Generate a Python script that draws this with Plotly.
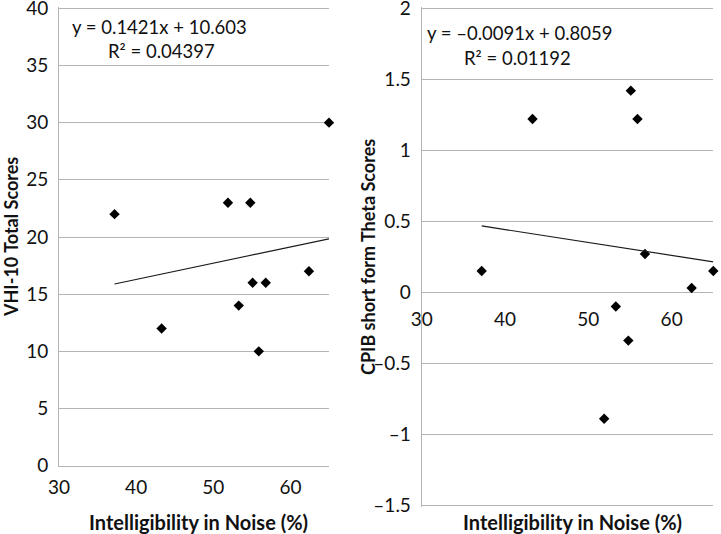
import plotly.graph_objects as go

# ---- data ----
intelligibility = [37.2, 43.3, 51.9, 53.3, 54.8, 55.1, 55.9, 56.8, 62.4, 65.0]
vhi10_scores = [22, 12, 23, 14, 23, 16, 10, 16, 17, 30]
cpib_theta = [0.15, 1.22, -0.89, -0.10, -0.34, 1.42, 1.22, 0.27, 0.03, 0.15]

vhi_slope, vhi_intercept = 0.1421, 10.603
cpib_slope, cpib_intercept = -0.0091, 0.8059

vhi_eq = "y = 0.1421x + 10.603"
vhi_r2 = "R² = 0.04397"
cpib_eq = "y = –0.0091x + 0.8059"
cpib_r2 = "R² = 0.01192"

x_title = "Intelligibility in Noise (%)"
vhi_title = "VHI-10 Total Scores"
cpib_title = "CPIB short form Theta Scores"

x_ticks = [30, 40, 50, 60]
vhi_ticks = [0, 5, 10, 15, 20, 25, 30, 35, 40]
cpib_ticks = [-1.5, -1, -0.5, 0, 0.5, 1, 1.5, 2]
cpib_ticktext = ["–1.5", "–1", "–0.5", "0", "0.5", "1", "1.5", "2"]

# ---- geometry ----
W, H = 721, 534
def px(x): return x / W
def py(y): return 1 - y / H

FONT = "Lato, Open Sans, sans-serif"
GRID = "#b4b4b4"
TXT = "#111111"

xmin, xmax = min(intelligibility), max(intelligibility)
trend_x = [xmin, xmax]
vhi_trend = [vhi_slope * v + vhi_intercept for v in trend_x]
cpib_trend = [cpib_slope * v + cpib_intercept for v in trend_x]

fig = go.Figure()
marker = dict(symbol="diamond", size=8, color="black", line=dict(width=0))
fig.add_trace(go.Scatter(x=intelligibility, y=vhi10_scores, mode="markers",
                         marker=marker, xaxis="x", yaxis="y", showlegend=False,
                         cliponaxis=False))
fig.add_trace(go.Scatter(x=trend_x, y=vhi_trend, mode="lines",
                         line=dict(color="#1a1a1a", width=1.2), xaxis="x", yaxis="y",
                         showlegend=False))
fig.add_trace(go.Scatter(x=intelligibility, y=cpib_theta, mode="markers",
                         marker=marker, xaxis="x2", yaxis="y2", showlegend=False,
                         cliponaxis=False))
fig.add_trace(go.Scatter(x=trend_x, y=cpib_trend, mode="lines",
                         line=dict(color="#1a1a1a", width=1.2), xaxis="x2", yaxis="y2",
                         showlegend=False))

# left panel: 0 -> 465.7px, 40 -> 8.3px ; small top pad so the 40 gridline is drawn
l_lo, l_hi = 0, 40.15
l_ppu = (465.7 - 8.3) / 40
L_dom_x = [px(59), px(329)]
L_dom_y = [py(465.7), py(8.3 - (l_hi - 40) * l_ppu)]
# right panel: -1.5 -> 505.3px, 2 -> 8.3px
r_lo, r_hi = -1.512, 2.012
r_ppu = (505.3 - 8.3) / 3.5
R_dom_x = [px(421.7), px(713.3)]
R_dom_y = [py(505.3 + (-1.5 - r_lo) * r_ppu), py(8.3 - (r_hi - 2) * r_ppu)]
zero_pos = R_dom_y[0] + (0 - r_lo) / (r_hi - r_lo) * (R_dom_y[1] - R_dom_y[0])

tickfont = dict(family=FONT, size=19, color=TXT)

fig.update_layout(
    width=W, height=H,
    margin=dict(l=0, r=0, t=0, b=0),
    paper_bgcolor="white", plot_bgcolor="white",
    font=dict(family=FONT, color=TXT),
    xaxis=dict(domain=L_dom_x, range=[30, 65], tickvals=x_ticks, showgrid=False,
               zeroline=False, showline=True, linecolor=GRID, linewidth=1,
               ticks="", tickfont=tickfont, anchor="y", automargin=False,
               ticklabelstandoff=4, ticklabeloverflow="allow"),
    yaxis=dict(domain=L_dom_y, range=[l_lo, l_hi], tickvals=vhi_ticks, showgrid=True,
               gridcolor=GRID, gridwidth=1, zeroline=False, showline=True,
               linecolor=GRID, linewidth=1, ticks="", tickfont=tickfont,
               anchor="x", automargin=False, ticklabelstandoff=6,
               ticklabeloverflow="allow"),
    xaxis2=dict(domain=R_dom_x, range=[30, 65], tickvals=x_ticks, showgrid=False,
                zeroline=False, showline=False, ticks="", tickfont=tickfont,
                anchor="free", position=zero_pos, automargin=False,
                ticklabelstandoff=14, ticklabeloverflow="allow"),
    yaxis2=dict(domain=R_dom_y, range=[r_lo, r_hi], tickvals=cpib_ticks,
                ticktext=cpib_ticktext, showgrid=True, gridcolor=GRID, gridwidth=1,
                zeroline=False, showline=True, linecolor=GRID, linewidth=1, ticks="",
                tickfont=tickfont, anchor="x2", automargin=False, ticklabelstandoff=6,
                ticklabeloverflow="allow"),
)

ann_font = dict(family=FONT, size=18.5, color=TXT)
xtitle_font = dict(family=FONT, size=20, color=TXT)
ytitle_font = dict(family=FONT, size=18, color=TXT)
anns = [
    dict(x=px(159.5), y=py(27), text=vhi_eq, font=ann_font),
    dict(x=px(161), y=py(51), text=vhi_r2, font=ann_font),
    dict(x=px(519.5), y=py(33), text=cpib_eq, font=ann_font),
    dict(x=px(517.5), y=py(58), text=cpib_r2, font=ann_font),
    dict(x=px(198.5), y=py(521.5), text="<b>%s</b>" % x_title, font=xtitle_font),
    dict(x=px(572), y=py(521.5), text="<b>%s</b>" % x_title, font=xtitle_font),
    dict(x=px(11), y=py(237), text="<b>%s</b>" % vhi_title, font=ytitle_font, textangle=-90),
    dict(x=px(368), y=py(257), text="<b>%s</b>" % cpib_title, font=ytitle_font, textangle=-90),
]
for a in anns:
    a.update(xref="paper", yref="paper", showarrow=False, xanchor="center", yanchor="middle")
fig.update_layout(annotations=anns)

fig.write_html("out.html", config={"displayModeBar": False})
with open("out.html", encoding="utf-8") as f:
    html = f.read()
html = html.replace("<head>", "<head><style>html,body{margin:0;padding:0;overflow:hidden;}</style>", 1)
with open("out.html", "w", encoding="utf-8") as f:
    f.write(html)
